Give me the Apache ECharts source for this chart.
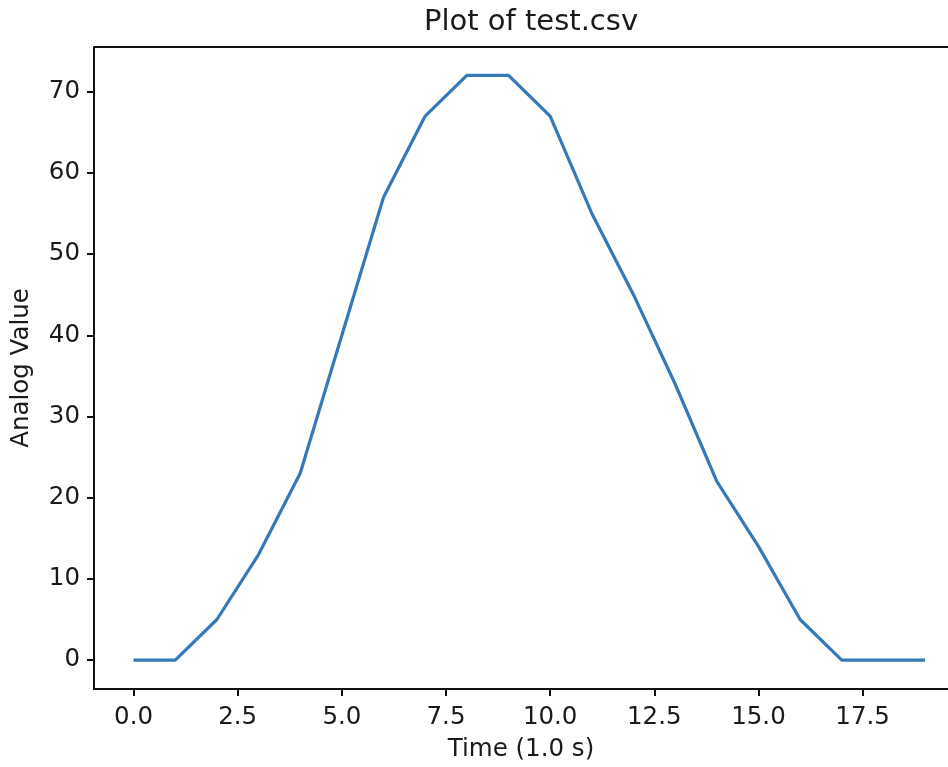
<!DOCTYPE html>
<html>
<head>
<meta charset="utf-8">
<script src="https://cdn.jsdelivr.net/npm/echarts@6/dist/echarts.min.js"></script>
<style>html,body{margin:0;padding:0;background:#fff}#c{width:948px;height:767px}</style>
</head>
<body>
<div id="c"></div>
<script>
const timeValues = [0,1,2,3,4,5,6,7,8,9,10,11,12,13,14,15,16,17,18,19];
const analogValues = [0,0,5,13,23,40,57,67,72,72,67,55,45,34,22,14,5,0,0,0];
const xTicks = [0,2.5,5,7.5,10,12.5,15,17.5];
const yTicks = [0,10,20,30,40,50,60,70];

const chart = echarts.init(document.getElementById('c'));
const font = 'DejaVu Sans';
const txt = '#1a1a1a';
chart.setOption({
  animation: false,
  backgroundColor: '#fff',
  title: {
    text: 'Plot of test.csv',
    left: 526, top: 3, textAlign: 'center',
    textStyle: {fontFamily: font, fontSize: 29, fontWeight: 'normal', color: txt}
  },
  grid: {left: 94, right: 0, top: 47, bottom: 75, containLabel: false},
  xAxis: {
    type: 'value', min: -0.95, max: 19.55,
    name: 'Time (1.0 s)', nameLocation: 'middle', nameGap: 48,
    nameTextStyle: {fontFamily: font, fontSize: 24.5, color: txt},
    axisLine: {show: true, onZero: false, lineStyle: {color: '#111', width: 2}},
    axisTick: {show: true, customValues: xTicks, length: 7, lineStyle: {color: '#111', width: 2}},
    axisLabel: {customValues: xTicks, margin: 16, fontFamily: font, fontSize: 24.5, color: txt,
      formatter: v => v.toFixed(1)},
    splitLine: {show: false}
  },
  yAxis: {
    type: 'value', min: -3.56, max: 75.5,
    name: 'Analog Value', nameLocation: 'middle', nameGap: 60,
    nameTextStyle: {fontFamily: font, fontSize: 24.5, color: txt},
    axisLine: {show: true, onZero: false, lineStyle: {color: '#111', width: 2}},
    axisTick: {show: true, customValues: yTicks, length: 7, lineStyle: {color: '#111', width: 2}},
    axisLabel: {customValues: yTicks, margin: 14, fontFamily: font, fontSize: 24.5, color: txt},
    splitLine: {show: false}
  },
  series: [{
    type: 'line',
    data: timeValues.map((t, i) => [t, analogValues[i]]),
    showSymbol: false,
    lineStyle: {color: '#3479b8', width: 3.2},
    itemStyle: {color: '#3479b8'}
  }],
  graphic: [{
    type: 'line', z: 10,
    shape: {x1: 94, y1: 47, x2: 948, y2: 47},
    style: {stroke: '#111', lineWidth: 2}
  }]
});
</script>
</body>
</html>
